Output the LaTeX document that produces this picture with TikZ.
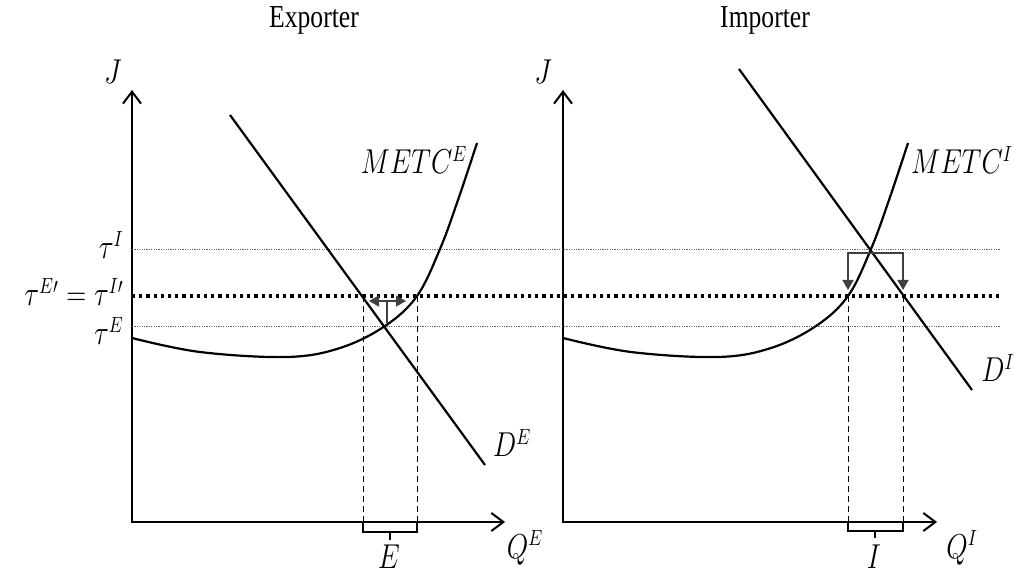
\documentclass[tikz,border=0pt]{standalone}
\usepackage{fontspec}
\setmainfont{Liberation Serif}
\usepackage{amsmath}
\usepackage{graphicx}
\usetikzlibrary{positioning,arrows.meta}

\newcommand{\narrow}[1]{\scalebox{0.8}[1]{#1}}

\tikzset{
    axis/.style={line width=1pt, {Straight Barb[length=6pt,width=9pt]}-{Straight Barb[length=6pt,width=9pt]}},
    curve/.style={line width=1.1pt},
    level/.style={line width=0.4pt, black!60, dash pattern=on 0.6pt off 0.6pt},
    newlevel/.style={line width=1.6pt, dash pattern=on 1.6pt off 2pt},
    guide/.style={line width=0.5pt, dash pattern=on 3pt off 2pt},
    brace/.style={line width=1pt},
    shiftarrow/.style={line width=0.9pt, black!75, -{Triangle[length=5pt,width=5.5pt]}},
    lbl/.style={font=\fontsize{16}{19}\selectfont, inner sep=1pt}
}

\begin{document}
\begin{tikzpicture}[x=0.5pt, y=-0.5pt]
    \useasboundingbox (0,0) rectangle (1015,576);

    % titles
    \node[lbl] (ttlE) at (314,20) {\narrow{Exporter}};
    \node[lbl] (ttlI) at (765,20) {\narrow{Importer}};

    % axes
    \coordinate (oE) at (132,522);
    \coordinate (yE) at (132,90);
    \coordinate (xE) at (505,522);
    \coordinate (oI) at (563,522);
    \coordinate (yI) at (563,90);
    \coordinate (xI) at (937,522);
    \draw[axis] (yE) -- (oE) -- (xE);
    \draw[axis] (yI) -- (oI) -- (xI);
    \node[lbl] (jE) at (113,72) {\narrow{$J$}};
    \node[lbl] (jI) at (543,72) {\narrow{$J$}};
    \node[lbl] (qE) at (525,548) {\narrow{$Q^E$}};
    \node[lbl] (qI) at (962,548) {\narrow{$Q^I$}};

    % price levels
    \coordinate (tI) at (132,249);
    \coordinate (tN) at (132,296);
    \coordinate (tE) at (132,326);
    \coordinate (endL) at (1000,0);
    \draw[level] (tI) -- (tI -| endL);
    \draw[level] (tE) -- (tE -| endL);
    \draw[newlevel] (tN) -- (tN -| endL);
    \node[lbl, anchor=east] (lblI) at (126,245) {\narrow{$\tau^{I}$}};
    \node[lbl, anchor=east] (lblN) at (126,292) {\narrow{$\tau^{E\prime}=\tau^{I\prime}$}};
    \node[lbl, anchor=east] (lblE) at (126,331) {\narrow{$\tau^{E}$}};

    % demand
    \draw[curve] (230,115) -- (485,465);
    \draw[curve] (739,69) -- (972,390);
    \node[lbl] (dE) at (512,443) {\narrow{$D^E$}};
    \node[lbl] (dI) at (998,368) {\narrow{$D^I$}};

    % marginal cost curves
    \foreach \dx in {0,431} {
        \begin{scope}[shift={(\dx,0)}]
        \draw[curve] plot[smooth, tension=0.6] coordinates {(132,338) (200,352) (287,357) (340,348) (385,326) (417,296) (440,249) (458,200) (477,143)};
        \end{scope}
    }
    \node[lbl] (mE) at (414,160) {\narrow{$METC^E$}};
    \node[lbl] (mI) at (962,160) {\narrow{$METC^I$}};

    % exporter quantity
    \coordinate (qE1) at (363,296);
    \coordinate (qE2) at (417,296);
    \draw[guide] (qE1) -- (qE1 |- oE);
    \draw[guide] (qE2) -- (qE2 |- oE);
    \draw[brace] (qE1 |- oE) -- ++(0,10) -| (qE2 |- oE);
    \draw[brace] (390,532) -- (390,540);
    \node[lbl] (volE) at (389,557) {\narrow{$E$}};

    % importer quantity
    \coordinate (qI1) at (848,296);
    \coordinate (qI2) at (903,296);
    \draw[guide] (qI1) -- (qI1 |- oI);
    \draw[guide] (qI2) -- (qI2 |- oI);
    \draw[brace] (qI1 |- oI) -- ++(0,9) -| (qI2 |- oI);
    \draw[brace] (875,531) -- (875,538);
    \node[lbl] (volI) at (874,557) {\narrow{$I$}};

    % adjustment arrows
    \coordinate (eqE) at (387,323);
    \coordinate (topE) at (387,301);
    \coordinate (lE) at (369,301);
    \coordinate (rE) at (406,301);
    \draw[line width=0.9pt, black!75] (eqE) -- (topE);
    \draw[shiftarrow] (topE) -- (lE);
    \draw[shiftarrow] (topE) -- (rE);

    \coordinate (eqI) at (872,253);
    \coordinate (aI1) at (848,290);
    \coordinate (aI2) at (903,290);
    \draw[shiftarrow] (eqI) -| (aI1);
    \draw[shiftarrow] (eqI) -| (aI2);
\end{tikzpicture}
\end{document}
